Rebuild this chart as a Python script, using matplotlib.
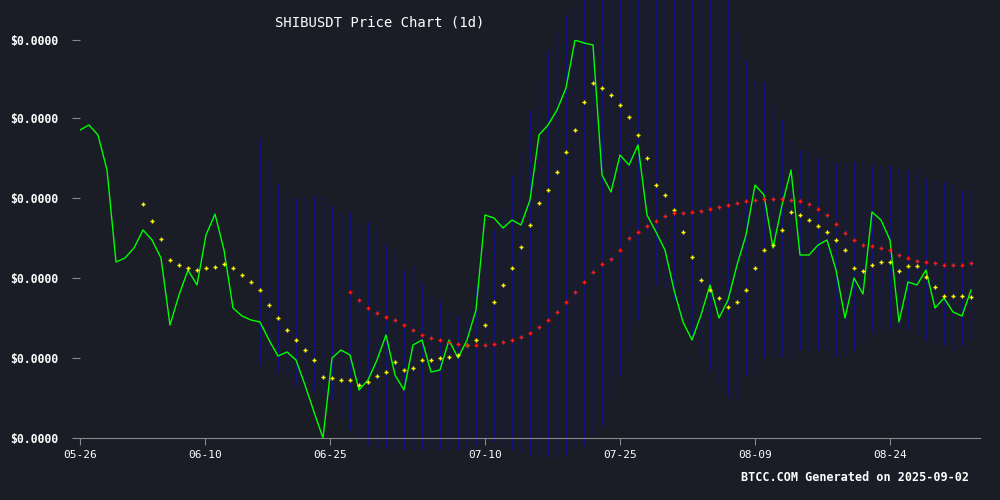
import numpy as np
import matplotlib
matplotlib.use("Agg")
import matplotlib.pyplot as plt

# prices in 1e-8 USD (labels round to $0.0000)
price = [308, 313, 303, 268, 176, 180, 190, 208, 198, 180,
         113, 143, 168, 153, 203, 224, 188, 130, 122, 118,
         116, 98, 82, 86, 78, 53, 26, 0, 80, 88,
         83, 48, 58, 78, 103, 63, 48, 93, 98, 66,
         68, 98, 80, 98, 128, 223, 220, 210, 218, 213,
         238, 303, 313, 328, 350, 398, 395, 393, 263, 246,
         283, 273, 293, 223, 206, 188, 148, 116, 98, 123,
         153, 120, 138, 173, 203, 253, 243, 190, 233, 268,
         183, 183, 193, 198, 168, 120, 160, 144, 226, 218,
         198, 116, 156, 153, 168, 130, 140, 126, 122, 148]

ma_short_start = 7
ma_short = [234, 217, 199, 178, 173, 170, 168, 170, 171, 174,
            170, 163, 156, 148, 133, 120, 108, 98, 88, 78,
            61, 60, 58, 58, 53, 56, 62, 66, 76, 68,
            70, 78, 78, 80, 81, 83, 93, 98, 113, 136,
            153, 170, 191, 213, 235, 248, 266, 286, 308, 336,
            355, 350, 343, 333, 321, 303, 280, 253, 243, 228,
            206, 181, 158, 148, 140, 131, 136, 148, 170, 188,
            193, 208, 226, 223, 218, 212, 206, 198, 188, 170,
            167, 173, 176, 176, 167, 172, 172, 161, 151, 142,
            142, 142, 141]

ma_long_start = 30
ma_long = [146, 138, 130, 125, 121, 118, 113, 108, 103, 100,
           98, 96, 94, 93, 93, 93, 94, 96, 98, 101,
           105, 111, 118, 126, 136, 146, 156, 166, 174, 179,
           188, 200, 206, 212, 217, 222, 225, 225, 226, 227,
           229, 231, 233, 235, 237, 238, 239, 239, 239, 238,
           237, 234, 229, 223, 214, 205, 198, 193, 192, 190,
           188, 183, 180, 177, 176, 175, 173, 173, 173, 175]

band_start = 20
band_upper = [300, 278, 255, 240, 240, 242, 243, 242, 233, 226,
              226, 216, 216, 208, 194, 188, 168, 173, 155, 143,
              138, 128, 123, 128, 153, 188, 208, 233, 263, 288,
              328, 358, 388, 408, 423, 433] + [458] * 17 + [
              408, 378, 358, 356, 333, 318, 298, 288, 288, 280,
              278, 276, 276, 276, 276, 273, 273, 273, 270, 268,
              268, 260, 258, 256, 253, 248, 248]
band_lower = [73, 78, 66, 60, 53, 50, 46, 43, 38, 18,
              8, -2, -7, -10, -10, -12, -12, -12, -12, -12,
              -12, -12, -12, -12, -7, -2, -4, -7, -12, -14,
              -17, -17, -18, -19, -17, -12, -7, 3, 13, 38,
              63, 86, 118, 143, 153, 148, 138, 118, 98, 81,
              68, 53, 41, 38, 63, 63, 80, 80, 81, 81,
              88, 88, 88, 88, 81, 81, 88, 98, 106, 108,
              110, 110, 108, 103, 98, 96, 93, 88, 93, 98]

tick_pos = [0, 13.9, 27.8, 45, 60, 75, 90]
tick_labels = ["05-26", "06-10", "06-25", "07-10", "07-25", "08-09", "08-24"]
y_ticks = [0, 80, 160, 240, 320, 398]

bg = "#1a1c26"
fig = plt.figure(figsize=(10, 5), dpi=100, facecolor=bg)
ax = fig.add_axes([0.08, 0.124, 0.90, 0.796], facecolor=bg)

xb = np.arange(band_start, band_start + len(band_upper))
ax.vlines(xb, band_lower, band_upper, color="#12127e", lw=1, clip_on=False, zorder=1)
ax.plot(np.arange(len(price)), price, color="#00ff00", lw=1, zorder=3)
ax.plot(np.arange(ma_short_start, ma_short_start + len(ma_short)), ma_short,
        ls="none", marker="+", ms=3.5, mew=1, color="#ffff00", zorder=4)
ax.plot(np.arange(ma_long_start, ma_long_start + len(ma_long)), ma_long,
        ls="none", marker="+", ms=3.5, mew=1, color="#ff1a1a", zorder=4)

ax.set_xlim(0, 100)
ax.set_ylim(0, 398)
for s in ["top", "right", "left"]:
    ax.spines[s].set_visible(False)
ax.spines["bottom"].set_color("#888888")
ax.set_xticks(tick_pos)
ax.set_xticklabels(tick_labels, color="white", fontsize=8, family="DejaVu Sans Mono")
ax.tick_params(axis="x", colors="#888888", length=5, labelcolor="white")
ax.set_yticks(y_ticks)
ax.set_yticklabels(["$0.0000"] * len(y_ticks), color="white", fontsize=8.3,
                   family="DejaVu Sans Mono", fontweight="bold")
ax.tick_params(axis="y", colors="#888888", length=6, pad=10, labelcolor="white")

fig.text(0.38, 0.955, "SHIBUSDT Price Chart (1d)", color="white", fontsize=10,
         family="DejaVu Sans Mono", ha="center", va="center")
fig.text(0.855, 0.045, "BTCC.COM Generated on 2025-09-02", color="white", fontsize=8.5,
         family="DejaVu Sans Mono", fontweight="bold", ha="center", va="center")

fig.savefig("out.png", dpi=100, facecolor=bg)
